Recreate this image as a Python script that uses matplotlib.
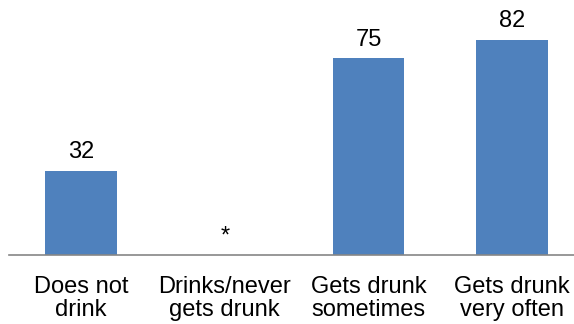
import matplotlib
matplotlib.use("Agg")
import matplotlib.pyplot as plt

# data
categories = ["Does not\ndrink", "Drinks/never\ngets drunk", "Gets drunk\nsometimes", "Gets drunk\nvery often"]
values = [32, 0, 75, 82]
value_labels = ["32", "*", "75", "82"]

plt.rcParams['font.family'] = ['Liberation Sans', 'DejaVu Sans']

fig = plt.figure(figsize=(5.74, 3.24), dpi=100)
ax = fig.add_axes([0.016, 0.213, 0.984, 0.787])

x = range(len(categories))
bars = ax.bar(x, values, width=0.5, color='#4F81BD', zorder=2)

for xi, v, lab in zip(x, values, value_labels):
    ax.text(xi, v + 3.0, lab, ha='center', va='bottom', fontsize=17)

ax.set_xlim(-0.5, 3.43)
ax.set_ylim(0, 97.3)
ax.set_xticks(list(x))
ax.set_xticklabels(categories, fontsize=17, linespacing=1.05)
ax.tick_params(axis='x', length=0, pad=15)
ax.set_yticks([])

for side in ['top', 'right', 'left']:
    ax.spines[side].set_visible(False)
ax.spines['bottom'].set_color('#868686')
ax.spines['bottom'].set_linewidth(1.2)

plt.savefig("out.png", dpi=100)
